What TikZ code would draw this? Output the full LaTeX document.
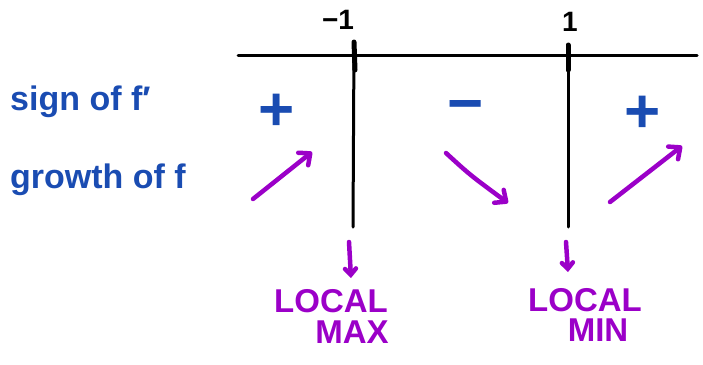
\documentclass[tikz,border=0pt]{standalone}
\usepackage{fontspec}
\setmainfont{Liberation Sans}
\usetikzlibrary{arrows.meta}
\definecolor{inkblue}{RGB}{26,76,178}
\definecolor{inkpurple}{RGB}{155,0,200}
\tikzset{
  axisline/.style={line width=3pt, black, line cap=round},
  tickmark/.style={line width=5pt, black, line cap=round},
  bluelabel/.style={inkblue, font=\fontsize{34}{34}\selectfont\bfseries, inner sep=0pt},
  signlabel/.style={inkblue, font=\fontsize{62}{62}\selectfont\bfseries, inner sep=0pt},
  numlabel/.style={black, font=\fontsize{28}{28}\selectfont\bfseries, inner sep=0pt},
  extlabel/.style={inkpurple, font=\fontsize{33}{33}\selectfont\bfseries, inner sep=0pt, align=center},
  growarrow/.style={inkpurple, line width=4.5pt, line cap=round, line join=round,
    -{Straight Barb[length=9pt, width=16pt, line cap=round, line join=round]}},
  downarrow/.style={inkpurple, line width=4.5pt, line cap=round,
    -{Straight Barb[length=6pt, width=11pt, line cap=round]}}
}
\begin{document}
\begin{tikzpicture}[x=1pt, y=-1pt]
\useasboundingbox (0,0) rectangle (703,364);
% axis
\coordinate (axL) at (238,55);
\coordinate (axR) at (697,55);
\draw[axisline] (axL) -- (axR);
% critical points
\coordinate (c1top) at (354,42);
\coordinate (c1tk) at (355,70);
\coordinate (c1bot) at (353,227);
\coordinate (c2top) at (568,45);
\coordinate (c2tk) at (568,70);
\coordinate (c2bot) at (568,227);
\draw[axisline] (c1top) -- (c1bot);
\draw[axisline] (c2top) -- (c2bot);
\draw[tickmark] (c1top) -- (c1tk);
\draw[tickmark] (c2top) -- (c2tk);
\node[numlabel] (n1) at (338,20) {−1};
\node[numlabel] (n2) at (570,22) {1};
% row labels
\node[bluelabel, anchor=west] (sign) at (10,102) {sign of f′};
\node[bluelabel, anchor=west] (grow) at (10,180) {growth of f};
% signs
\node[signlabel] (s1) at (277,112) {+};
\node[signlabel] (s2) at (466,112) {−};
\node[signlabel] (s3) at (643,114) {+};
% growth arrows
\coordinate (g1a) at (253,199);
\coordinate (g1b) at (312,152);
\coordinate (g2a) at (446,153);
\coordinate (g2b) at (508,203);
\coordinate (g3a) at (610,202);
\coordinate (g3b) at (682,146);
\draw[growarrow] (g1a) -- (g1b);
\draw[growarrow] (g2a) .. controls (470,175) .. (g2b);
\draw[growarrow] (g3a) -- (g3b);
% extremum markers
\coordinate (d1a) at (349,242);
\coordinate (d1b) at (351,278);
\coordinate (d2a) at (566,242);
\coordinate (d2b) at (568,272);
\draw[downarrow] (d1a) -- (d1b);
\draw[downarrow] (d2a) -- (d2b);
\node[extlabel] (mx1) at (331,301) {LOCAL};
\node[extlabel] (mx2) at (352,332) {MAX};
\node[extlabel] (mn1) at (585,300) {LOCAL};
\node[extlabel] (mn2) at (598,330) {MIN};
\end{tikzpicture}
\end{document}
